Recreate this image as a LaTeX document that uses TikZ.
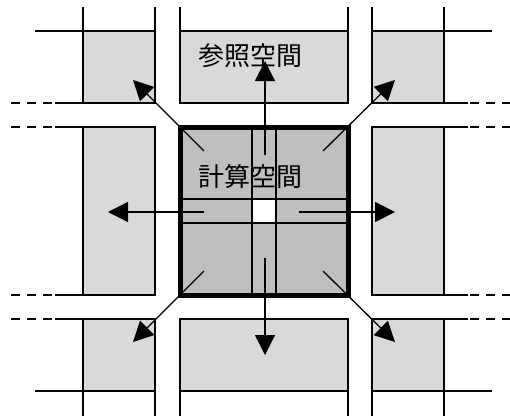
\documentclass[tikz,border=0pt]{standalone}
\usepackage{fontspec}
\newfontfamily\cjk{Noto Sans CJK JP}
\usetikzlibrary{arrows.meta}
\definecolor{cellgray}{gray}{0.85}
\definecolor{centergray}{gray}{0.75}
\begin{document}
\begin{tikzpicture}[x=1pt,y=-1pt,
  cell/.style={draw=black, line width=1.3pt, fill=cellgray, inner sep=0pt, outer sep=0pt},
  thin/.style={line width=1.3pt},
  dashline/.style={line width=1.3pt, dash pattern=on 9pt off 7pt},
  arr/.style={line width=1.3pt, -{Triangle[length=20pt,width=20pt]}},
  lbl/.style={font=\cjk\fontsize{26}{30}\selectfont, inner sep=0pt}]
\useasboundingbox (0,0) rectangle (510,415);
% outer cells
\node[cell, minimum width=72pt, minimum height=72pt] (tl) at (119,67) {};
\node[cell, minimum width=168pt, minimum height=72pt] (tm) at (264,67) {};
\node[cell, minimum width=72pt, minimum height=72pt] (tr) at (408,67) {};
\node[cell, minimum width=72pt, minimum height=168pt] (ml) at (119,211) {};
\node[cell, minimum width=72pt, minimum height=168pt] (mr) at (408,211) {};
\node[cell, minimum width=72pt, minimum height=72pt] (bl) at (119,355) {};
\node[cell, minimum width=168pt, minimum height=72pt] (bm) at (264,355) {};
\node[cell, minimum width=72pt, minimum height=72pt] (br) at (408,355) {};
% grid line stubs
\foreach \x in {83,155,180,348,372,444} {
  \draw[thin] (\x,7) -- (\x,31);
  \draw[thin] (\x,391) -- (\x,420);
}
\draw[thin] (35,31) -- (83,31);
\draw[thin] (444,31) -- (492,31);
\draw[thin] (35,391) -- (83,391);
\draw[thin] (444,391) -- (492,391);
\foreach \y in {103,127,295,319} {
  \draw[dashline] (11,\y) -- (55,\y);
  \draw[thin] (55,\y) -- (83,\y);
  \draw[thin] (444,\y) -- (468,\y);
  \draw[dashline] (470,\y) -- (515,\y);
}
% center
\node[fill=centergray, minimum width=168pt, minimum height=168pt, inner sep=0pt] (c) at (264,211) {};
\draw[thin] (252,127) -- (252,295);
\draw[thin] (276,127) -- (276,295);
\draw[thin] (180,199) -- (348,199);
\draw[thin] (180,223) -- (348,223);
\node[fill=white, draw=black, line width=1.3pt, minimum width=24pt, minimum height=24pt, inner sep=0pt] (hole) at (264,211) {};
\draw[line width=5pt] (180,127) rectangle (348,295);
% labels
\node[lbl] (ref) at (250,56) {参照空間};
\node[lbl] (calc) at (250,177) {計算空間};
% arrows
\coordinate (sn) at (265,155); \coordinate (en) at (265,61);
\coordinate (ss) at (265,258); \coordinate (es) at (265,355);
\coordinate (sw) at (204,212); \coordinate (ew) at (108,212);
\coordinate (se) at (299,212); \coordinate (ee) at (395,212);
\coordinate (snw) at (204,151); \coordinate (enw) at (133,80);
\coordinate (sne) at (323,151); \coordinate (ene) at (395,80);
\coordinate (ssw) at (204,271); \coordinate (esw) at (133,342);
\coordinate (sse) at (323,271); \coordinate (ese) at (395,342);
\foreach \a/\b in {sn/en,ss/es,sw/ew,se/ee,snw/enw,sne/ene,ssw/esw,sse/ese}
  \draw[arr] (\a) -- (\b);
\end{tikzpicture}
\end{document}
